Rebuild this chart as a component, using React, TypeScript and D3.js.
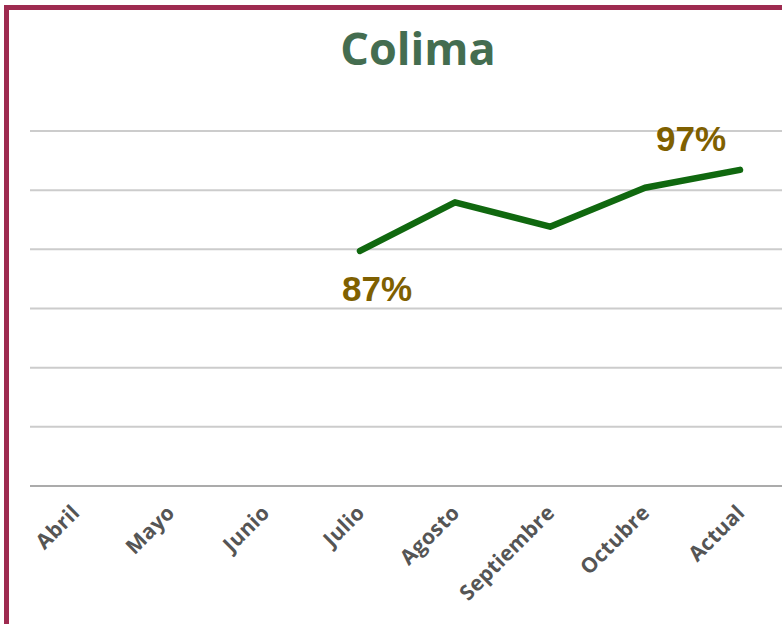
import { useEffect, useRef } from "react";
import * as d3 from "d3";

const months = ["Abril", "Mayo", "Junio", "Julio", "Agosto", "Septiembre", "Octubre", "Actual"];
const values: (number | null)[] = [null, null, null, 87, 93.0, 90.0, 94.8, 97];
const labelled = ["Julio", "Actual"];
const labelText = ["87%", "97%"];
const yDomain: [number, number] = [58, 101.8];

export default function App() {
  const ref = useRef<SVGSVGElement>(null);

  useEffect(() => {
    document.body.style.margin = "0";
    if (!ref.current) return;
    const svg = d3.select(ref.current);
    svg.selectAll("*").remove();
    const width = 782;
    const height = 624;

    svg.append("rect").attr("width", width).attr("height", height).attr("fill", "#fff");

    const x = d3.scalePoint<string>().domain(months).range([75, 740]);
    const y = d3.scaleLinear().domain(yDomain).range([486, 131]);

    // border (cut off on the right and bottom)
    svg
      .append("rect")
      .attr("x", 6.5)
      .attr("y", 7.5)
      .attr("width", width + 50)
      .attr("height", height + 50)
      .attr("fill", "none")
      .attr("stroke", "#9e2b50")
      .attr("stroke-width", 5);

    svg
      .append("text")
      .attr("x", 418)
      .attr("y", 65)
      .attr("text-anchor", "middle")
      .attr("font-family", "'Open Sans', sans-serif")
      .attr("font-weight", 700)
      .attr("font-size", 45)
      .attr("fill", "#446d50")
      .text("Colima");

    const gridValues = d3.range(7).map(i => yDomain[0] + (i * (yDomain[1] - yDomain[0])) / 6);
    svg
      .append("g")
      .selectAll("line")
      .data(gridValues)
      .join("line")
      .attr("x1", 30)
      .attr("x2", width)
      .attr("y1", d => y(d))
      .attr("y2", d => y(d))
      .attr("stroke", (d, i) => (i === 0 ? "#ababab" : "#cccccc"))
      .attr("stroke-width", 2);

    svg
      .append("g")
      .selectAll("text")
      .data(months)
      .join("text")
      .attr("transform", d => `translate(${(x(d) ?? 0) + 6},514) rotate(-45)`)
      .attr("text-anchor", "end")
      .attr("font-family", "'Open Sans', sans-serif")
      .attr("font-weight", 700)
      .attr("font-size", 21)
      .attr("letter-spacing", 0.3)
      .attr("fill", "#555555")
      .text(d => d);

    const line = d3
      .line<number | null>()
      .defined(d => d !== null)
      .x((d, i) => x(months[i]) ?? 0)
      .y(d => y(d as number));

    svg
      .append("path")
      .datum(values)
      .attr("d", line)
      .attr("fill", "none")
      .attr("stroke", "#10680f")
      .attr("stroke-width", 6.5)
      .attr("stroke-linecap", "round")
      .attr("stroke-linejoin", "round");

    const offsets = [
      [17, 50],
      [-49, -19],
    ];
    svg
      .append("g")
      .selectAll("text")
      .data(labelled)
      .join("text")
      .attr("x", (d, i) => (x(d) ?? 0) + offsets[i][0])
      .attr("y", (d, i) => y(values[months.indexOf(d)] as number) + offsets[i][1])
      .attr("text-anchor", "middle")
      .attr("font-family", "'Liberation Sans', Arial, sans-serif")
      .attr("font-weight", 700)
      .attr("font-size", 35)
      .attr("fill", "#7f6000")
      .text((d, i) => labelText[i]);
  }, []);

  return <svg ref={ref} width={782} height={624} style={{ display: "block" }} />;
}
